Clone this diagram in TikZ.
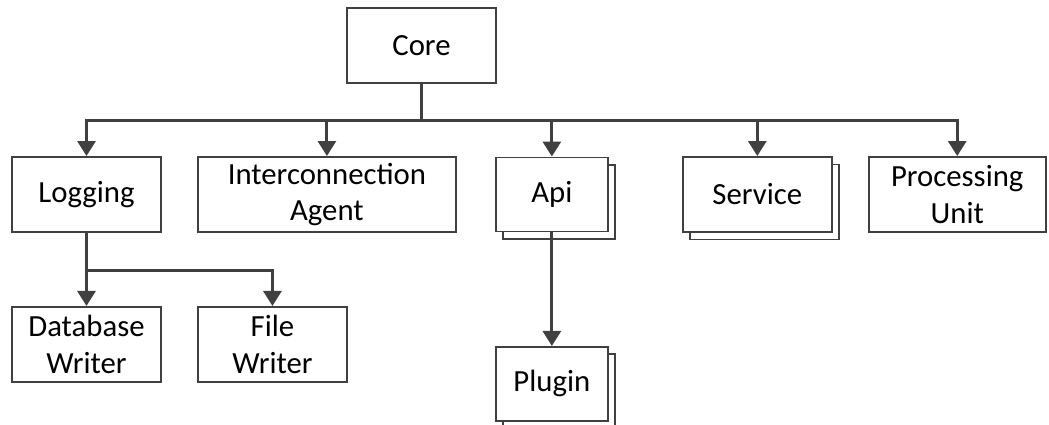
\documentclass[tikz,border=0pt]{standalone}
\usepackage{fontspec}
\setmainfont{Carlito}
\usepackage{tikz}
\usetikzlibrary{arrows.meta, positioning, shadows}
\definecolor{mygray}{RGB}{64,64,64}
\tikzset{
  box/.style={rectangle, draw=mygray, fill=white, line width=1.1pt,
    align=center, minimum width=2.98cm, minimum height=1.5cm,
    inner sep=2pt, font=\fontsize{17.5}{21}\selectfont},
  stackbox/.style={box, copy shadow={shadow xshift=0.15cm, shadow yshift=-0.15cm}},
  arrow/.style={-{Triangle[width=0.36cm, length=0.3cm]}, line width=1.7pt, color=mygray},
  line/.style={line width=1.7pt, color=mygray}
}
\begin{document}
\begin{tikzpicture}
  \useasboundingbox (0,0) rectangle (20.98,-8.5);
  \node[box] (core) at (8.43,-0.91) {Core};
  \node[box] (logging) at (1.73,-3.89) {Logging};
  \node[box, minimum width=5.16cm, right=0.70cm of logging] (agent) {Interconnection\\Agent};
  \node[stackbox, minimum width=2.24cm, minimum height=1.48cm, right=0.76cm of agent] (api) {Api};
  \node[stackbox, right=1.46cm of api] (service) {Service};
  \node[box, minimum width=3.54cm, right=0.70cm of service] (unit) {Processing\\Unit};
  \node[box, below=1.46cm of logging] (dbwriter) {Database\\Writer};
  \node[box, right=0.70cm of dbwriter] (filewriter) {File\\Writer};
  \node[stackbox, minimum width=2.24cm, minimum height=1.48cm, below=2.27cm of api] (plugin) {Plugin};

  % core to the second row
  \draw[arrow] (core.south) -- ++(0,-0.74) -| (logging.north);
  \draw[arrow] (core.south) -- ++(0,-0.74) -| (agent.north);
  \draw[arrow] (core.south) -- ++(0,-0.74) -| (api.north);
  \draw[arrow] (core.south) -- ++(0,-0.74) -| (service.north);
  \draw[arrow] (core.south) -- ++(0,-0.74) -| (unit.north);

  % writers
  \draw[arrow] (logging.south) -- ++(0,-0.76) -| (dbwriter.north);
  \draw[arrow] (logging.south) -- ++(0,-0.76) -| (filewriter.north);

  \draw[arrow] (api.south) -- (plugin.north);
\end{tikzpicture}
\end{document}
